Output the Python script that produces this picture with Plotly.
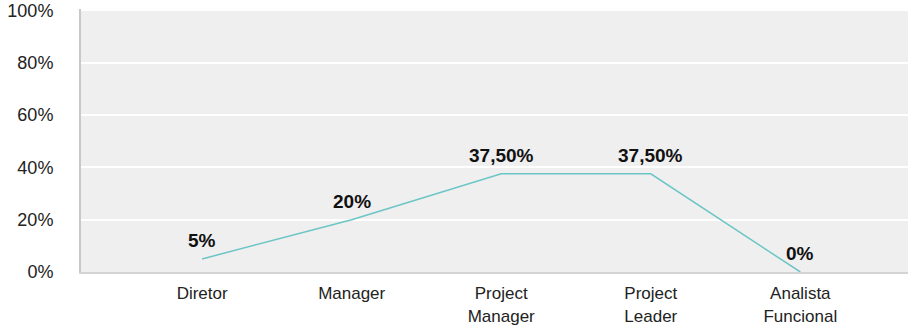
import plotly.graph_objects as go

categories = ["Diretor", "Manager", "Project<br>Manager", "Project<br>Leader", "Analista<br>Funcional"]
values = [5, 20, 37.5, 37.5, 0]
y_tickvals = [0, 20, 40, 60, 80, 100]
y_ticktext = ["0%", "20%", "40%", "60%", "80%", "100%"]


def fmt(v):
    if float(v).is_integer():
        return f"{int(v)}%"
    return f"{v:.2f}".replace(".", ",") + "%"


labels = [fmt(v) for v in values]
xpos = list(range(len(categories)))

FONT = "Liberation Sans, Arial, sans-serif"

fig = go.Figure()
fig.add_trace(go.Scatter(
    x=xpos, y=values,
    mode="lines",
    line=dict(color="#6cc5c5", width=1.5),
    hoverinfo="skip",
))

for xi, v, lab in zip(xpos, values, labels):
    fig.add_annotation(
        x=xi, y=v, text=f"<b>{lab}</b>", showarrow=False,
        yanchor="bottom", yshift=6,
        font=dict(family=FONT, size=19, color="#111111"),
    )

fig.update_layout(
    width=908, height=327,
    margin=dict(l=81, r=0, t=9, b=55),
    paper_bgcolor="white",
    plot_bgcolor="#efefef",
    showlegend=False,
    font=dict(family=FONT, size=17, color="#222222"),
    xaxis=dict(
        range=[-0.81, 4.72],
        tickvals=xpos, ticktext=categories,
        showgrid=False, zeroline=False,
        showline=True, linecolor="#d4d4d4", linewidth=2,
        ticks="", tickfont=dict(size=17, color="#222222"),
        ticklabelstandoff=5,
    ),
    yaxis=dict(
        range=[0, 100.5],
        tickvals=y_tickvals, ticktext=y_ticktext,
        showgrid=True, gridcolor="white", gridwidth=1.5,
        zeroline=False,
        showline=True, linecolor="#c8c8c8", linewidth=2,
        ticks="", tickfont=dict(size=18, color="#222222"),
        ticklabelstandoff=22,
    ),
)

fig.write_html("out.html")
